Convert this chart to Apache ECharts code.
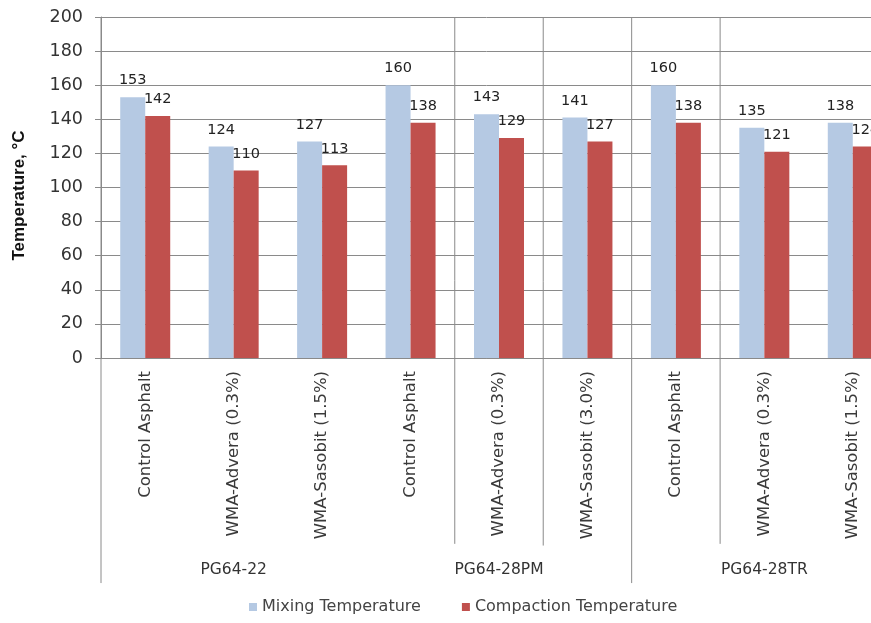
<!DOCTYPE html>
<html>
<head>
<meta charset="utf-8">
<script src="https://cdn.jsdelivr.net/npm/echarts@6/dist/echarts.min.js"></script>
<style>
  html, body { margin: 0; padding: 0; background: #fff; }
  #chart { width: 871px; height: 623px; }
</style>
</head>
<body>
<div id="chart"></div>
<script>
// Asphalt binder groups and mix types
const binderGroups = ['PG64-22', 'PG64-28PM', 'PG64-28TR'];
const mixTypes = [
  'Control Asphalt', 'WMA-Advera (0.3%)', 'WMA-Sasobit (1.5%)',
  'Control Asphalt', 'WMA-Advera (0.3%)', 'WMA-Sasobit (3.0%)',
  'Control Asphalt', 'WMA-Advera (0.3%)', 'WMA-Sasobit (1.5%)'
];
// Temperatures in °C
const mixingTemp = [153, 124, 127, 160, 143, 141, 160, 135, 138];
const compactionTemp = [142, 110, 113, 138, 129, 127, 138, 121, 124];
const yTicks = { min: 0, max: 200, interval: 20 };

const FONT = 'DejaVu Sans';
const GRID_COLOR = '#8a8a8a';

// Vertical divider lines: [category boundary, lower end in axis units]
const dividers = [
  [0, -132], [4, -109], [5, -110], [6, -132], [7, -109]
];

const chart = echarts.init(document.getElementById('chart'), null, { renderer: 'canvas' });

chart.setOption({
  animation: false,
  backgroundColor: '#ffffff',
  textStyle: { fontFamily: FONT },
  // plot area runs past the right edge of the canvas
  grid: {
    left: 101, top: 17, width: 796, height: 341,
    containLabel: false, outerBoundsMode: 'none'
  },
  legend: {
    left: 244, top: 594,
    itemWidth: 8, itemHeight: 8, itemGap: 41,
    icon: 'rect',
    textStyle: { fontFamily: FONT, fontSize: 16, color: '#444' },
    data: ['Mixing Temperature', 'Compaction Temperature']
  },
  xAxis: [
    {
      type: 'category',
      data: mixTypes,
      axisLine: { lineStyle: { color: GRID_COLOR, width: 1 } },
      axisTick: { show: false },
      axisLabel: {
        rotate: 90, margin: 13, interval: 0,
        fontFamily: FONT, fontSize: 16.5, color: '#3a3a3a'
      }
    },
    {
      type: 'category',
      data: binderGroups,
      position: 'bottom',
      offset: 196,
      axisLine: { show: false },
      axisTick: { show: false },
      axisLabel: { margin: 8, fontFamily: FONT, fontSize: 15.5, color: '#333' }
    },
    {
      type: 'value', min: 0, max: mixTypes.length, show: false
    }
  ],
  yAxis: {
    type: 'value',
    min: yTicks.min, max: yTicks.max, interval: yTicks.interval,
    name: 'Temperature, °C',
    nameLocation: 'middle',
    nameGap: 73,
    nameTextStyle: {
      fontFamily: 'Liberation Sans', fontSize: 17, fontWeight: 'bold', color: '#111',
      padding: [0, 16, 0, 0]
    },
    axisLine: { show: true, lineStyle: { color: GRID_COLOR } },
    axisTick: { show: true, length: 6, lineStyle: { color: GRID_COLOR } },
    axisLabel: { margin: 18, fontFamily: FONT, fontSize: 17.5, color: '#333' },
    splitLine: { show: true, lineStyle: { color: GRID_COLOR, width: 1 } }
  },
  series: [
    {
      name: 'Mixing Temperature',
      type: 'bar',
      xAxisIndex: 0,
      data: mixingTemp,
      barWidth: 25,
      barGap: '0%',
      itemStyle: { color: '#b5c9e3' },
      label: {
        show: true, position: 'top', distance: 9,
        fontFamily: FONT, fontSize: 14.5, color: '#222'
      }
    },
    {
      name: 'Compaction Temperature',
      type: 'bar',
      xAxisIndex: 0,
      data: compactionTemp,
      barWidth: 25,
      barGap: '0%',
      itemStyle: { color: '#c0504d' },
      label: {
        show: true, position: 'top', distance: 9,
        fontFamily: FONT, fontSize: 14.5, color: '#222'
      }
    },
    {
      type: 'custom',
      xAxisIndex: 2,
      clip: false,
      silent: true,
      z: 5,
      data: dividers,
      renderItem: function (params, api) {
        const top = api.coord([api.value(0), yTicks.max]);
        const bottom = api.coord([api.value(0), api.value(1)]);
        return {
          type: 'line',
          shape: { x1: top[0], y1: top[1], x2: bottom[0], y2: bottom[1] },
          style: { stroke: GRID_COLOR, lineWidth: 1 }
        };
      }
    }
  ]
});
</script>
</body>
</html>
